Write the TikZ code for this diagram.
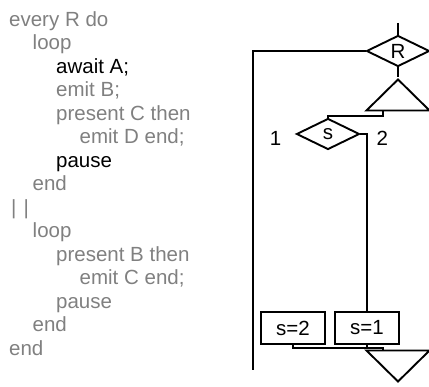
\documentclass[tikz,border=0pt]{standalone}
\usepackage{fontspec}
\setmainfont{Liberation Sans}
\usetikzlibrary{positioning,calc,shapes.geometric}
\definecolor{codegray}{gray}{0.5}
\newcommand{\indt}{\hspace*{23.5pt}}

\begin{document}
\begin{tikzpicture}[x=1pt,y=-1pt,
 code/.style={align=left,anchor=north west,inner sep=0pt,text=codegray,font=\fontsize{20.5}{23.5}\selectfont},
 dia/.style={draw,diamond,aspect=2,inner sep=0pt,minimum width=63pt,minimum height=31pt,line width=1.9pt,font=\fontsize{20.5}{23.5}\selectfont},
 tri/.style={draw,isosceles triangle,isosceles triangle stretches,inner sep=0pt,minimum width=63pt,minimum height=31pt,line width=1.9pt},
 box/.style={draw,minimum width=64pt,minimum height=32pt,inner sep=0pt,line width=1.9pt,font=\fontsize{20.5}{23.5}\selectfont},
 lab/.style={inner sep=0pt,font=\fontsize{20.5}{23.5}\selectfont},wire/.style={line width=1.9pt}]
\useasboundingbox (0,0) rectangle (429,387);
\node[code] (prog) at (9,11) {every R do\\
\indt loop\\
\indt\indt{\color{black}await A;}\\
\indt\indt emit B;\\
\indt\indt present C then\\
\indt\indt\indt emit D end;\\
\indt\indt{\color{black}pause}\\
\indt end\\
\hspace*{2pt}|\hspace{7pt}|\\
\indt loop\\
\indt\indt present B then\\
\indt\indt\indt emit C end;\\
\indt\indt pause\\
\indt end\\
end};
\coordinate (top) at (398,23);
\coordinate (back) at (253,370);
\node[dia] (R) at (398,51) {R};
\node[tri,shape border rotate=90,anchor=apex] (open) at (398,77) {};
\node[dia] (S) at (328,134) {s};
\node[lab,left=14pt of S,yshift=-4pt] (one) {1};
\node[lab,right=16pt of S,yshift=-4pt] (two) {2};
\node[box] (s2) at (293,328) {s=2};
\node[box,right=8pt of s2] (s1) {s=1};
\node[tri,shape border rotate=270,anchor=apex] (close) at (398,384) {};
\draw[wire] (top)--(R.north);\draw[wire] (R.west)-|(back);\draw[wire] (R.south)--(open.apex);
\draw[wire] ($(open.left corner)!.5!(open.right corner)+(-15,0)$)--++(0,5)-|(S.north);
\draw[wire] (S.east)-|(s1.north);
\draw[wire] (s2.south)--++(0,3)-|($(close.left corner)!.5!(close.right corner)+(-15,0)$);
\draw[wire] (s1.south)--++(0,3);
\end{tikzpicture}
\end{document}
